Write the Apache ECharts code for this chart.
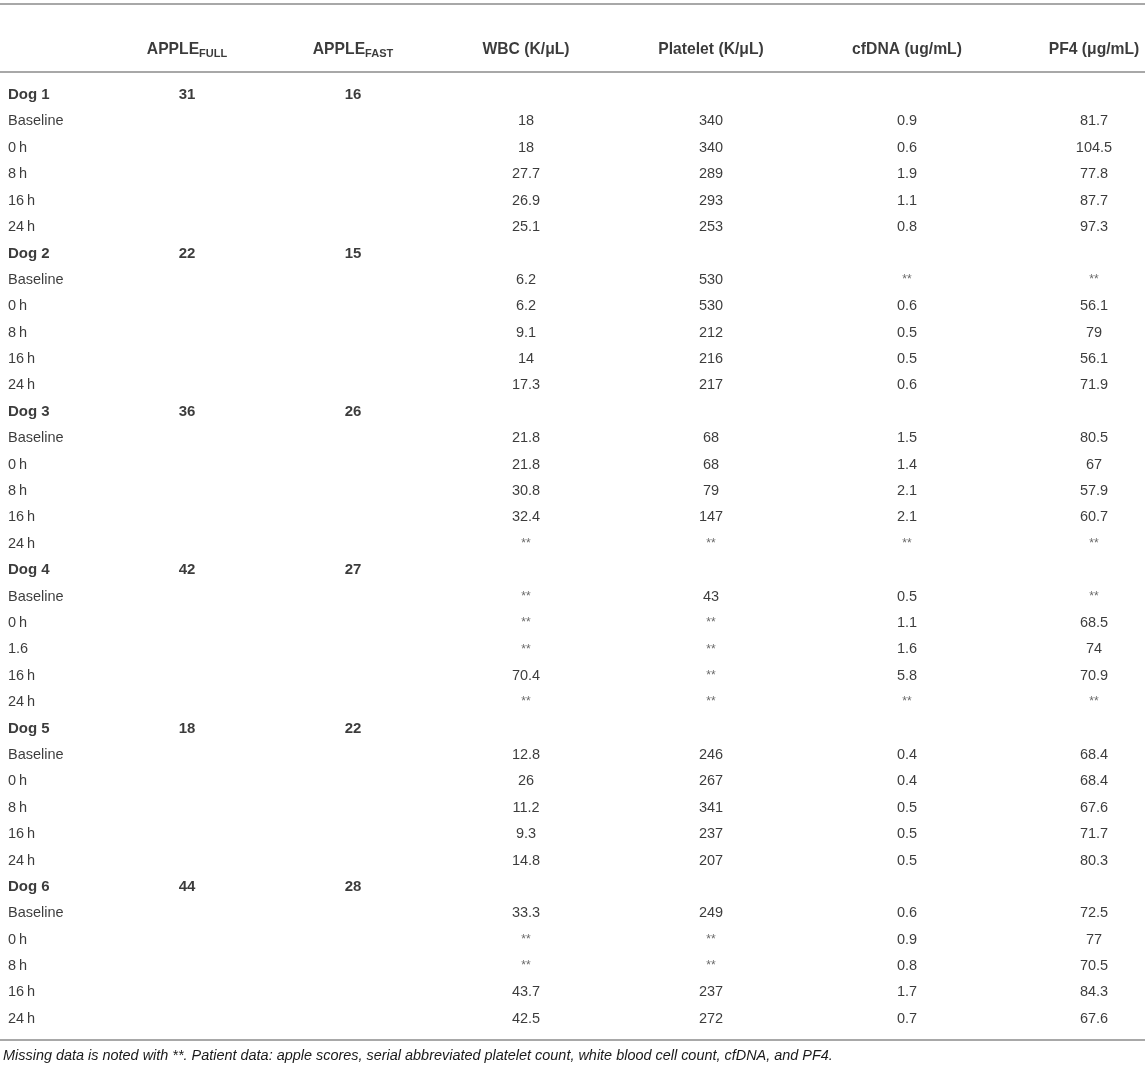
<!DOCTYPE html>
<html><head><meta charset="utf-8">
<script src="https://cdn.jsdelivr.net/npm/echarts@6/dist/echarts.min.js"></script>
<style>html,body{margin:0;padding:0;background:#fff}#c{width:1145px;height:1068px}</style>
</head><body><div id="c"></div>
<script>
// ---------- data ----------
const headers = ['', 'APPLE|FULL', 'APPLE|FAST', 'WBC (K/\u03bcL)', 'Platelet (K/\u03bcL)', 'cfDNA (ug/mL)', 'PF4 (\u03bcg/mL)'];
const dogs = ['Dog 1', 'Dog 2', 'Dog 3', 'Dog 4', 'Dog 5', 'Dog 6'];
const appleFull = [31, 22, 36, 42, 18, 44];
const appleFast = [16, 15, 26, 27, 22, 28];
const timeLabels = [
  ['Baseline', '0\u2009h', '8\u2009h', '16\u2009h', '24\u2009h'],
  ['Baseline', '0\u2009h', '8\u2009h', '16\u2009h', '24\u2009h'],
  ['Baseline', '0\u2009h', '8\u2009h', '16\u2009h', '24\u2009h'],
  ['Baseline', '0\u2009h', '1.6', '16\u2009h', '24\u2009h'],
  ['Baseline', '0\u2009h', '8\u2009h', '16\u2009h', '24\u2009h'],
  ['Baseline', '0\u2009h', '8\u2009h', '16\u2009h', '24\u2009h']
];
// null = missing (shown as **)
const wbc = [
  [18, 18, 27.7, 26.9, 25.1],
  [6.2, 6.2, 9.1, 14, 17.3],
  [21.8, 21.8, 30.8, 32.4, null],
  [null, null, null, 70.4, null],
  [12.8, 26, 11.2, 9.3, 14.8],
  [33.3, null, null, 43.7, 42.5]
];
const platelet = [
  [340, 340, 289, 293, 253],
  [530, 530, 212, 216, 217],
  [68, 68, 79, 147, null],
  [43, null, null, null, null],
  [246, 267, 341, 237, 207],
  [249, null, null, 237, 272]
];
const cfdna = [
  [0.9, 0.6, 1.9, 1.1, 0.8],
  [null, 0.6, 0.5, 0.5, 0.6],
  [1.5, 1.4, 2.1, 2.1, null],
  [0.5, 1.1, 1.6, 5.8, null],
  [0.4, 0.4, 0.5, 0.5, 0.5],
  [0.6, 0.9, 0.8, 1.7, 0.7]
];
const pf4 = [
  [81.7, 104.5, 77.8, 87.7, 97.3],
  [null, 56.1, 79, 56.1, 71.9],
  [80.5, 67, 57.9, 60.7, null],
  [null, 68.5, 74, 70.9, null],
  [68.4, 68.4, 67.6, 71.7, 80.3],
  [72.5, 77, 70.5, 84.3, 67.6]
];
const footnote = 'Missing data is noted with **. Patient data: apple scores, serial abbreviated platelet count, white blood cell count, cfDNA, and PF4.';

// ---------- layout ----------
const colX = [8, 187, 353, 526, 711, 907, 1094];
const headerRow = -1.78;
const rules = [-3.45, -0.87, 35.8];
const FONT = '"Liberation Sans", Arial, Helvetica, sans-serif';
const TXT = '#0a0a0a';

const fmt = v => (v === null || v === undefined) ? '**' : String(v);

// build cell lists
const cells = [[], [], [], [], [], [], []];
let r = 0;
dogs.forEach((d, i) => {
  cells[0].push({ value: [colX[0], r], t: d, bold: true });
  cells[1].push({ value: [colX[1], r], t: String(appleFull[i]), bold: true });
  cells[2].push({ value: [colX[2], r], t: String(appleFast[i]), bold: true });
  r++;
  for (let k = 0; k < 5; k++) {
    cells[0].push({ value: [colX[0], r], t: timeLabels[i][k] });
    cells[3].push({ value: [colX[3], r], t: fmt(wbc[i][k]) });
    cells[4].push({ value: [colX[4], r], t: fmt(platelet[i][k]) });
    cells[5].push({ value: [colX[5], r], t: fmt(cfdna[i][k]) });
    cells[6].push({ value: [colX[6], r], t: fmt(pf4[i][k]) });
    r++;
  }
});

function toItem(c) {
  const miss = c.t === '**';
  return {
    value: c.value,
    label: {
      formatter: c.t,
      fontWeight: c.bold ? 'bold' : 'normal',
      fontSize: miss ? 12 : (c.bold ? 15 : 14.5),
      color: miss ? '#444' : TXT
    }
  };
}

const series = cells.map((list, ci) => ({
  type: 'scatter',
  symbolSize: 0,
  silent: true,
  data: list.map(toItem),
  label: {
    show: true,
    position: 'inside',
    align: ci === 0 ? 'left' : 'center',
    verticalAlign: 'middle',
    fontFamily: FONT,
    fontSize: 14.5
  }
}));

// header row
series.push({
  type: 'scatter',
  symbolSize: 0,
  silent: true,
  data: headers.map((h, ci) => ({
    value: [colX[ci], headerRow],
    label: {
      formatter: h.indexOf('|') >= 0 ? '{a|' + h.split('|')[0] + '}{s|' + h.split('|')[1] + '}' : '{a|' + h + '}'
    }
  })),
  label: {
    show: true,
    position: 'inside',
    align: 'center',
    verticalAlign: 'middle',
    rich: {
      a: { fontFamily: FONT, fontSize: 15.7, fontWeight: 'bold', color: TXT, lineHeight: 19, verticalAlign: 'bottom' },
      s: { fontFamily: FONT, fontSize: 11, fontWeight: 'bold', color: TXT, lineHeight: 19, verticalAlign: 'bottom', padding: [0, 0, -2, 0] }
    }
  },
  markLine: {
    silent: true,
    symbol: 'none',
    label: { show: false },
    lineStyle: { type: 'solid', color: '#a8a8a8', width: 2 },
    data: rules.map(v => ({ yAxis: v }))
  }
});

const chart = echarts.init(document.getElementById('c'), null, { renderer: 'canvas' });
chart.setOption({
  animation: false,
  backgroundColor: '#ffffff',
  title: {
    text: footnote,
    left: 3,
    top: 1049,
    padding: 0,
    textStyle: { fontFamily: FONT, fontSize: 14.45, fontStyle: 'italic', fontWeight: 'normal', color: '#1a1a1a' }
  },
  grid: { left: 0, right: 0, top: 4, bottom: 28 },
  xAxis: { type: 'value', min: 0, max: 1145, show: false },
  yAxis: { type: 'value', inverse: true, min: rules[0], max: rules[2], show: false },
  series: series
});
</script>
</body></html>
